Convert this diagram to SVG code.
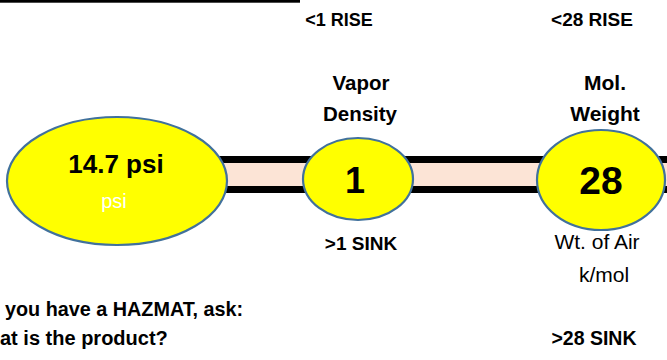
<svg xmlns="http://www.w3.org/2000/svg" width="667" height="360" viewBox="0 0 667 360">
<style>
.node{fill:#FFFF00;stroke:#41719C;stroke-width:2.2}
.b{font-family:"Liberation Sans",Arial,sans-serif;font-weight:bold;fill:#000;text-anchor:middle}
.r{font-family:"Liberation Sans",Arial,sans-serif;fill:#000;text-anchor:middle}
.l{font-family:"Liberation Sans",Arial,sans-serif;font-weight:bold;fill:#000}
</style>
<rect width="667" height="360" fill="#fff"/>
<rect x="0" y="0" width="300" height="2.7" fill="#000"/>
<g id="connectors">
  <rect x="200" y="159.5" width="480" height="30" fill="#FCE4D6" stroke="#000" stroke-width="7"/>
</g>
<g id="pressure">
  <ellipse class="node" cx="117" cy="181" rx="110" ry="64"/>
  <text class="b" x="116" y="173" font-size="26">14.7 psi</text>
  <text class="r" x="114" y="208" font-size="20" fill="#fff" style="fill:#fff">psi</text>
</g>
<g id="vapor-density">
  <ellipse class="node" cx="358" cy="179" rx="55" ry="41"/>
  <text class="b" x="355" y="193" font-size="36">1</text>
  <text class="b" x="339" y="26" font-size="18">&lt;1 RISE</text>
  <text class="b" x="361" y="90" font-size="20.5">Vapor</text>
  <text class="b" x="360" y="121" font-size="20.5">Density</text>
  <text class="b" x="361" y="250" font-size="19">&gt;1 SINK</text>
</g>
<g id="mol-weight">
  <ellipse class="node" cx="601" cy="180" rx="64" ry="50"/>
  <text class="b" x="601" y="194" font-size="39">28</text>
  <text class="b" x="592" y="26" font-size="19">&lt;28 RISE</text>
  <text class="b" x="605" y="90" font-size="21">Mol.</text>
  <text class="b" x="605" y="121" font-size="21">Weight</text>
  <text class="r" x="597" y="249" font-size="21">Wt. of Air</text>
  <text class="r" x="604" y="282" font-size="21">k/mol</text>
  <text class="b" x="594" y="345" font-size="19.5">&gt;28 SINK</text>
</g>
<g id="note">
  <text class="l" x="5" y="316" font-size="19.8">you have a HAZMAT, ask:</text>
  <text class="l" x="0" y="345" font-size="20">at is the product?</text>
</g>
</svg>
